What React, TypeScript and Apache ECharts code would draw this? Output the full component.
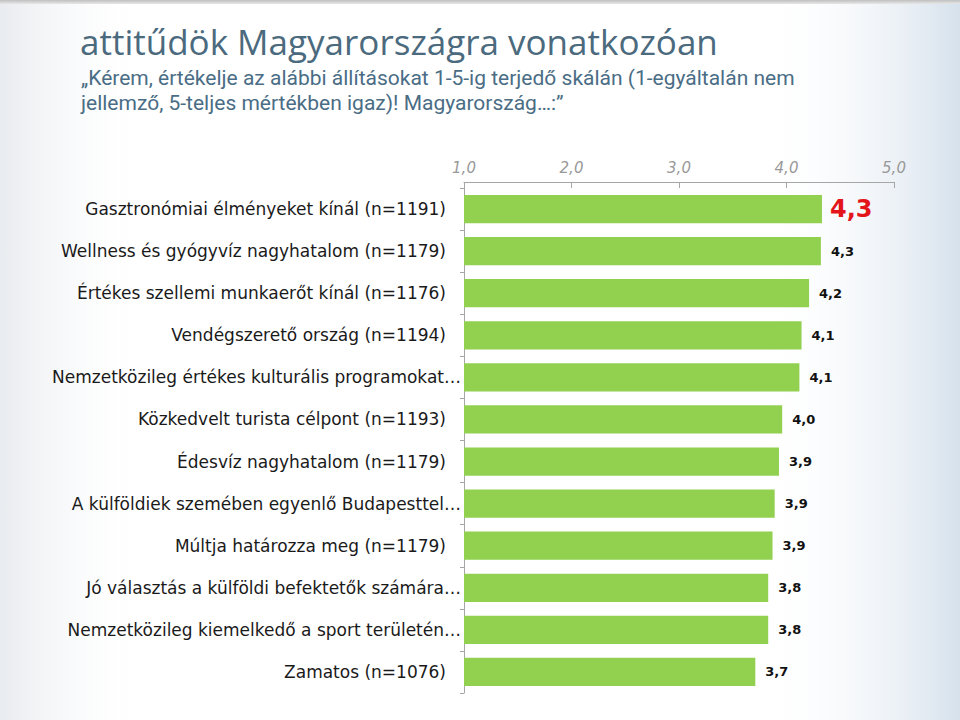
import React, { useEffect, useRef } from "react";
import * as echarts from "echarts";

const categories = [
  "Gasztronómiai élményeket kínál (n=1191)",
  "Wellness és gyógyvíz nagyhatalom (n=1179)",
  "Értékes szellemi munkaerőt kínál (n=1176)",
  "Vendégszerető ország (n=1194)",
  "Nemzetközileg értékes kulturális programokat…",
  "Közkedvelt turista célpont (n=1193)",
  "Édesvíz nagyhatalom (n=1179)",
  "A külföldiek szemében egyenlő Budapesttel…",
  "Múltja határozza meg (n=1179)",
  "Jó választás a külföldi befektetők számára…",
  "Nemzetközileg kiemelkedő a sport területén…",
  "Zamatos (n=1076)",
];

const values = [4.33, 4.32, 4.21, 4.14, 4.12, 3.96, 3.93, 3.89, 3.87, 3.83, 3.83, 3.71];

const axisTicks = [1, 2, 3, 4, 5];

const titleText = "attitűdök Magyarországra vonatkozóan";
const subtitleLines = [
  "„Kérem, értékelje az alábbi állításokat 1-5-ig terjedő skálán (1-egyáltalán nem",
  "jellemző, 5-teljes mértékben igaz)! Magyarország…:”",
];

const fmt = (v: number) => v.toFixed(1).replace(".", ",");

export default function App() {
  const ref = useRef<HTMLDivElement>(null);
  useEffect(() => {
    if (!ref.current) return;
    const chart = echarts.init(ref.current, null, { renderer: "svg" });
    const option = {
      animation: false,
      backgroundColor: "#ffffff",
      graphic: [
        {
          type: "rect",
          silent: true,
          z: -10,
          shape: { x: 0, y: 0, width: 150, height: 720 },
          style: {
            fill: new echarts.graphic.LinearGradient(0, 0, 1, 0, [
              { offset: 0, color: "rgba(210,216,224,0.5)" },
              { offset: 1, color: "rgba(255,255,255,0)" },
            ]),
          },
        },
        {
          type: "rect",
          silent: true,
          z: -10,
          shape: { x: 760, y: 0, width: 200, height: 720 },
          style: {
            fill: new echarts.graphic.LinearGradient(0, 0, 1, 0, [
              { offset: 0, color: "rgba(255,255,255,0)" },
              { offset: 1, color: "rgba(200,215,230,0.75)" },
            ]),
          },
        },
        {
          type: "rect",
          silent: true,
          z: -9,
          shape: { x: 0, y: 0, width: 960, height: 4 },
          style: {
            fill: new echarts.graphic.LinearGradient(0, 0, 0, 1, [
              { offset: 0, color: "#bfbfbf" },
              { offset: 1, color: "#e8e8e8" },
            ]),
          },
        },
      ],
      title: [
        {
          text: titleText,
          left: 80,
          top: 22,
          padding: 0,
          textStyle: {
            fontFamily: "Open Sans",
            fontSize: 35,
            fontWeight: "normal",
            color: "#4b6a7e",
            lineHeight: 38,
          },
        },
        {
          text: subtitleLines[0],
          left: 81,
          top: 65,
          padding: 0,
          textStyle: {
            fontFamily: "Roboto",
            fontSize: 21,
            fontWeight: "normal",
            color: "#4a6d85",
            lineHeight: 25,
          },
        },
        {
          text: subtitleLines[1],
          left: 81,
          top: 90,
          padding: 0,
          textStyle: {
            fontFamily: "Roboto",
            fontSize: 21,
            fontWeight: "normal",
            color: "#4a6d85",
            lineHeight: 25,
          },
        },
      ],
      grid: { left: 464, right: 66, top: 188, bottom: 27, containLabel: false },
      xAxis: {
        type: "value",
        position: "top",
        offset: 6,
        min: axisTicks[0],
        max: axisTicks[axisTicks.length - 1],
        interval: 1,
        splitLine: { show: false },
        axisLine: { show: true, lineStyle: { color: "#a6a6a6", width: 1 } },
        axisTick: { show: true, inside: true, length: 6, lineStyle: { color: "#a6a6a6" } },
        axisLabel: {
          formatter: (v: number) => fmt(v),
          color: "#999999",
          fontStyle: "italic",
          fontFamily: "DejaVu Sans",
          fontSize: 15,
          margin: 7,
        },
      },
      yAxis: {
        type: "category",
        inverse: true,
        data: categories,
        axisLine: { show: true, lineStyle: { color: "#a6a6a6" } },
        axisTick: { show: true, length: 4, lineStyle: { color: "#a6a6a6" } },
        axisLabel: {
          margin: 3,
          formatter: (v: string) => (v.endsWith("…") ? `{e|${v}}` : `{n|${v}}`),
          rich: {
            e: { fontFamily: "DejaVu Sans", fontSize: 17, color: "#1a1a1a" },
            n: { fontFamily: "DejaVu Sans", fontSize: 17, color: "#1a1a1a", padding: [0, 15, 0, 0] },
          },
        },
      },
      series: [
        {
          type: "bar",
          data: values.map((v, i) =>
            i === 0
              ? {
                  value: v,
                  label: { fontSize: 24, color: "#e3151b", distance: 8 },
                }
              : v
          ),
          barCategoryGap: "33%",
          itemStyle: { color: "#92d050" },
          label: {
            show: true,
            position: "right",
            distance: 10,
            formatter: (p: any) => fmt(p.value),
            fontFamily: "DejaVu Sans",
            fontWeight: "bold",
            fontSize: 13,
            color: "#111111",
          },
        },
      ],
    };
    chart.setOption(option);
    return () => chart.dispose();
  }, []);
  return <div ref={ref} style={{ width: 960, height: 720, position: "absolute", left: 0, top: 0 }} />;
}
